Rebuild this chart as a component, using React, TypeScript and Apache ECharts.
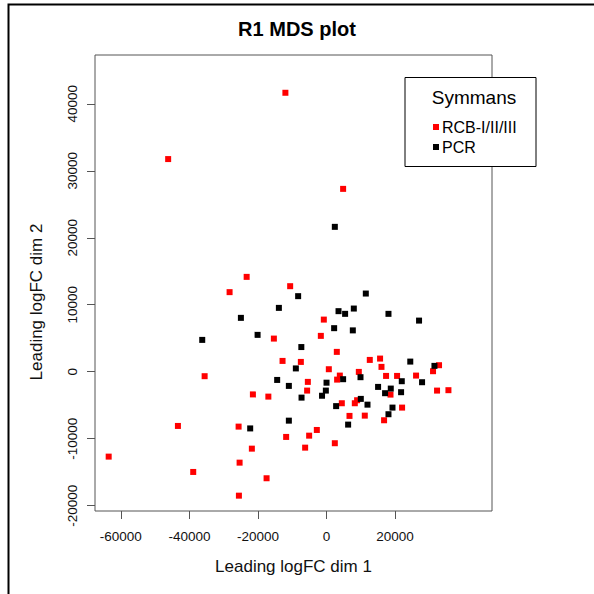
import React, { useEffect, useRef } from "react";
import * as echarts from "echarts";

const chartTitle = "R1 MDS plot";
const xTitle = "Leading logFC dim 1";
const yTitle = "Leading logFC dim 2";
const legendTitle = "Symmans";
const seriesNames = ["RCB-I/II/III", "PCR"];
const xTicks = [-60000, -40000, -20000, 0, 20000];
const yTicks = [-20000, -10000, 0, 10000, 20000, 30000, 40000];

// RCB-I/II/III samples [dim1, dim2]
const rcbPoints: number[][] = [
  [-12000, 41650], [-46200, 31750], [4840, 27300], [-23300, 14160], [-28280, 11880],
  [-10610, 12770], [-15360, 4945], [-12830, 1610], [-1660, 5350], [-790, 7780],
  [3000, 2960], [-7490, 1460], [12620, 1760], [15620, 1960], [16030, 720],
  [32820, 970], [31070, 75], [670, 370], [3880, -580], [3090, -1180],
  [9420, -30], [17370, -630], [20580, -630], [26120, -580], [-5450, -1520],
  [-5660, -2820], [18660, -3420], [32240, -2820], [35560, -2760], [4460, -4710],
  [8250, -4710], [8920, -4260], [22040, -5360], [6700, -6600], [11160, -6560],
  [16790, -7250], [-2830, -8700], [-5070, -9550], [-6240, -11340], [2420, -10680],
  [-35560, -670], [-21480, -3390], [-16970, -3720], [-43350, -8100], [-25650, -8200],
  [-11780, -9740], [-63550, -12680], [-21780, -11490], [-25360, -13580], [-38890, -14970],
  [-17490, -15910], [-25560, -18510],
];

// PCR samples [dim1, dim2]
const pcrPoints: number[][] = [
  [2420, 21630], [-8280, 11280], [-13900, 9530], [-24980, 8040], [-36260, 4750],
  [-20110, 5500], [11460, 11670], [3500, 9040], [5420, 8640], [7960, 9430],
  [18070, 8640], [26990, 7630], [2220, 6500], [7670, 6170], [-7350, 3680],
  [24430, 1510], [31480, 870], [-8950, 490], [4840, -1120], [9910, -820],
  [21950, -1420], [27870, -1570], [0, -1640], [-200, -2820], [-1310, -3590],
  [-7290, -3870], [15040, -2270], [18740, -2520], [17080, -3210], [21750, -3060],
  [10000, -4060], [11950, -4920], [2800, -5140], [19240, -5360], [18070, -6350],
  [6300, -7900], [-14400, -1230], [-10990, -2120], [-10990, -7310], [-22270, -8470],
];

const FONT = "'Liberation Sans', Arial, Helvetica, sans-serif";
const plain = (v: number) => String(v);

export default function App() {
  const ref = useRef<HTMLDivElement>(null);
  useEffect(() => {
    if (!ref.current) return;
    const chart = echarts.init(ref.current, undefined, { renderer: "svg" });
    chart.setOption({
      animation: false,
      backgroundColor: "#ffffff",
      textStyle: { fontFamily: FONT },
      title: {
        text: chartTitle,
        left: 292,
        top: 14,
        textAlign: "center",
        textStyle: { fontFamily: FONT, fontSize: 20, fontWeight: "bold", color: "#000" },
      },
      grid: {
        left: 95,
        right: 102,
        top: 55,
        bottom: 83,
        show: true,
        borderColor: "#555",
        borderWidth: 1,
        backgroundColor: "transparent",
      },
      xAxis: {
        type: "value",
        min: -67540,
        max: 48270,
        name: xTitle,
        nameLocation: "middle",
        nameGap: 47,
        nameTextStyle: { fontFamily: FONT, fontSize: 17, color: "#111" },
        axisLine: { show: false, onZero: false },
        splitLine: { show: false },
        axisTick: { show: true, length: 8, lineStyle: { color: "#555" }, customValues: xTicks },
        axisLabel: { fontFamily: FONT, fontSize: 13.5, color: "#111", margin: 18, customValues: xTicks, formatter: plain },
      },
      yAxis: {
        type: "value",
        min: -20800,
        max: 47290,
        splitLine: { show: false },
        axisLine: { show: false, onZero: false },
        axisTick: { show: true, length: 8, lineStyle: { color: "#555" }, customValues: yTicks },
        axisLabel: { fontFamily: FONT, fontSize: 13.5, color: "#111", margin: 16, rotate: 90, customValues: yTicks, formatter: plain },
      },
      legend: {
        orient: "vertical",
        left: 428,
        top: 114,
        itemWidth: 6,
        itemHeight: 6,
        itemGap: 4,
        icon: "rect",
        z: 10,
        textStyle: { fontFamily: FONT, fontSize: 16, color: "#000", padding: [0, 0, 0, -2] },
        data: seriesNames,
      },
      graphic: [
        {
          type: "text",
          x: 36,
          y: 302,
          rotation: Math.PI / 2,
          style: {
            text: yTitle,
            fontFamily: FONT,
            fontSize: 17,
            fill: "#111",
            textAlign: "center",
            textVerticalAlign: "middle",
          },
        },
        {
          type: "rect",
          z: 5,
          shape: { x: 405, y: 77.5, width: 131, height: 89 },
          style: { fill: "#fff", stroke: "#000", lineWidth: 1 },
        },
        {
          type: "text",
          z: 6,
          x: 474,
          y: 97,
          style: {
            text: legendTitle,
            fontFamily: FONT,
            fontSize: 19,
            fill: "#000",
            textAlign: "center",
            textVerticalAlign: "middle",
          },
        },
        {
          type: "rect",
          z: 6,
          shape: { x: 8.5, y: 4.5, width: 700, height: 700 },
          style: { fill: "none", stroke: "#000", lineWidth: 2 },
        },
      ],
      series: [
        {
          name: seriesNames[0],
          type: "scatter",
          symbol: "rect",
          symbolSize: 6,
          itemStyle: { color: "#ff0000", opacity: 1 },
          data: rcbPoints,
        },
        {
          name: seriesNames[1],
          type: "scatter",
          symbol: "rect",
          symbolSize: 6,
          itemStyle: { color: "#000000", opacity: 1 },
          data: pcrPoints,
        },
      ],
    });
    return () => chart.dispose();
  }, []);
  return (
    <div
      ref={ref}
      style={{ position: "fixed", left: 0, top: 0, width: 594, height: 594, background: "#fff" }}
    />
  );
}
